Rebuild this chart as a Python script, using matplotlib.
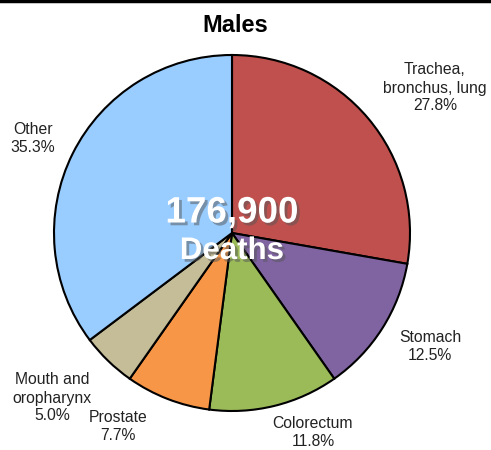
import matplotlib.pyplot as plt
import matplotlib.patheffects as pe
from matplotlib.lines import Line2D

plt.rcParams['font.family'] = ['Liberation Sans', 'DejaVu Sans']

labels = ['Trachea,\nbronchus, lung', 'Stomach', 'Colorectum', 'Prostate',
          'Mouth and\noropharynx', 'Other']
shares = [27.8, 12.5, 11.8, 7.7, 5.0, 35.3]
colors = ['#C0504D', '#8064A2', '#9BBB59', '#F79646', '#C4BD97', '#99CCFF']
total = '176,900'

# label anchor points (pixel coords, y from bottom)
label_pos = [(435, 362), (430, 103), (313, 18), (118, 24), (52, 52), (33, 311)]

fig = plt.figure(figsize=(4.91, 4.5), dpi=100)
ax = fig.add_axes([0, 0, 1, 1])

ax.pie(shares, colors=colors, startangle=90, counterclock=False,
       center=(232, 217), radius=178, frame=True,
       wedgeprops=dict(edgecolor='black', linewidth=1.5))
ax.set_xlim(0, 491)
ax.set_ylim(0, 450)
ax.set_aspect('equal')
ax.axis('off')

for lab, v, (x, y) in zip(labels, shares, label_pos):
    ax.text(x, y, '%s\n%.1f%%' % (lab, v), ha='center', va='center',
            fontsize=11.3, linespacing=1.25, color='#222222')

ax.text(235, 425, 'Males', ha='center', va='center', fontsize=17,
        fontweight='bold')

shadow = [pe.SimplePatchShadow(offset=(2, -2), shadow_rgbFace='#555555', alpha=0.5),
          pe.Normal()]
ax.text(232, 237, total, ha='center', va='center', fontsize=26.5,
        fontweight='bold', color='white', path_effects=shadow)
ax.text(232, 199, 'Deaths', ha='center', va='center', fontsize=22.5,
        fontweight='bold', color='white', path_effects=shadow)

# top border line
fig.add_artist(Line2D([0, 1], [0.997, 0.997], transform=fig.transFigure,
                      color='black', linewidth=2.5))

fig.savefig('out.png', dpi=100)
